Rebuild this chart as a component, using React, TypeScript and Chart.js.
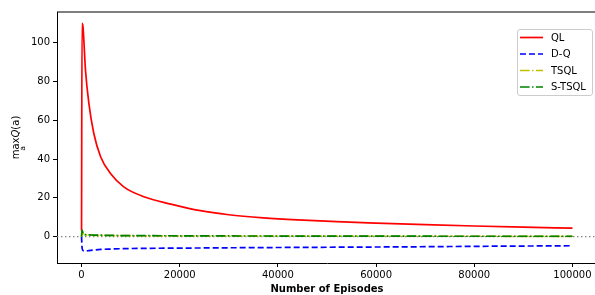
import React, { useEffect, useRef } from "react";
import { Chart, registerables } from "chart.js";

Chart.register(...registerables);

const episodes = [0, 100, 300, 800, 1500, 2500, 3900, 5900, 8600, 12700, 18200, 24200, 30000, 37000, 44000, 52000, 60000, 70000, 80000, 90000, 100000];
const qlValues = [3, 110, 108, 86, 68.6, 53.2, 41.1, 32.6, 25.7, 20.6, 16.8, 13.4, 11.3, 9.7, 8.6, 7.7, 7.0, 6.2, 5.5, 4.9, 4.4];
const dqValues = [0, -5.5, -7.2, -7.4, -7.2, -6.9, -6.6, -6.4, -6.2, -6.05, -5.95, -5.85, -5.75, -5.65, -5.55, -5.45, -5.35, -5.2, -5.0, -4.85, -4.7];
const tsqlValues = [0, 3.0, 1.6, 0.9, 0.8, 0.7, 0.65, 0.6, 0.5, 0.45, 0.4, 0.35, 0.3, 0.28, 0.26, 0.24, 0.22, 0.2, 0.2, 0.18, 0.18];
const stsqlValues = [0, 3.4, 1.8, 1.0, 0.9, 0.8, 0.75, 0.65, 0.55, 0.5, 0.45, 0.4, 0.35, 0.32, 0.3, 0.28, 0.25, 0.22, 0.2, 0.2, 0.2];

const xTicks = [0, 20000, 40000, 60000, 80000, 100000];
const yTicks = [0, 20, 40, 60, 80, 100];
const seriesNames = ["QL", "D-Q", "TSQL", "S-TSQL"];
const xTitle = "Number of Episodes";

const FONT = "'DejaVu Sans', sans-serif";
const colors = ["#ff0000", "#0000ff", "#bfbf00", "#008000"];
const dashes: number[][] = [[], [6, 3], [9.6, 2.4, 1.5, 2.4], [9.6, 2.4, 1.5, 2.4]];

const toPoints = (ys: number[]) => episodes.map((x, i) => ({ x, y: ys[i] }));

const decorPlugin = {
  id: "decor",
  beforeDatasetsDraw(chart: any) {
    const { ctx, chartArea, scales } = chart;
    const y0 = scales.y.getPixelForValue(0);
    ctx.save();
    ctx.strokeStyle = "#808080";
    ctx.lineWidth = 1.3;
    ctx.setLineDash([1.4, 2.6]);
    ctx.beginPath();
    ctx.moveTo(chartArea.left, y0);
    ctx.lineTo(chartArea.right, y0);
    ctx.stroke();
    ctx.restore();
  },
  afterDraw(chart: any) {
    const { ctx, chartArea } = chart;
    ctx.save();
    ctx.strokeStyle = "#000";
    ctx.lineWidth = 1;
    ctx.setLineDash([]);
    ctx.beginPath();
    ctx.moveTo(chartArea.left, chartArea.top);
    ctx.lineTo(chartArea.right, chartArea.top);
    ctx.lineTo(chartArea.right, chartArea.bottom);
    ctx.stroke();

    ctx.fillStyle = "#000";
    ctx.font = `bold 10px ${FONT}`;
    ctx.textAlign = "center";
    ctx.textBaseline = "middle";
    ctx.fillText(xTitle, (chartArea.left + chartArea.right) / 2, 289);

    ctx.save();
    ctx.translate(19, (chartArea.top + chartArea.bottom) / 2);
    ctx.rotate(-Math.PI / 2);
    ctx.textBaseline = "alphabetic";
    ctx.textAlign = "left";
    ctx.font = `10px ${FONT}`;
    const wMax = ctx.measureText("max").width;
    ctx.font = `italic 10px ${FONT}`;
    const wQ = ctx.measureText("Q").width;
    ctx.font = `10px ${FONT}`;
    const wA = ctx.measureText("(a)").width;
    const total = wMax + wQ + wA;
    let x = -total / 2;
    ctx.fillText("max", x, 0);
    const maxCenter = x + wMax / 2;
    x += wMax;
    ctx.font = `italic 10px ${FONT}`;
    ctx.fillText("Q", x, 0);
    x += wQ;
    ctx.font = `10px ${FONT}`;
    ctx.fillText("(a)", x, 0);
    ctx.font = `7.5px ${FONT}`;
    ctx.textAlign = "center";
    ctx.fillText("a", maxCenter, 6);
    ctx.restore();

    const lx = 517, ly = 29, lw = 75, lh = 66;
    ctx.fillStyle = "rgba(255,255,255,0.8)";
    ctx.strokeStyle = "#cccccc";
    ctx.lineWidth = 1;
    ctx.beginPath();
    (ctx as any).roundRect(lx + 0.5, ly + 0.5, lw, lh, 2.5);
    ctx.fill();
    ctx.stroke();
    const rows = [37.5, 54, 70.5, 87];
    seriesNames.forEach((name, i) => {
      ctx.strokeStyle = colors[i];
      ctx.lineWidth = 1.7;
      ctx.setLineDash(dashes[i]);
      ctx.beginPath();
      ctx.moveTo(520, rows[i]);
      ctx.lineTo(543, rows[i]);
      ctx.stroke();
      ctx.setLineDash([]);
      ctx.fillStyle = "#000";
      ctx.font = `10px ${FONT}`;
      ctx.textAlign = "left";
      ctx.textBaseline = "middle";
      ctx.fillText(name, 551, rows[i] + 0.5);
    });
    ctx.restore();
  },
};

export default function App() {
  const ref = useRef<HTMLCanvasElement | null>(null);
  useEffect(() => {
    if (!ref.current) return;
    const series = [qlValues, dqValues, tsqlValues, stsqlValues];
    const orders = [3, 2, 1, 0];
    const chart = new Chart(ref.current, {
      type: "line",
      data: {
        datasets: series.map((ys, i) => ({
          label: seriesNames[i],
          data: toPoints(ys),
          borderColor: colors[i],
          backgroundColor: colors[i],
          borderWidth: 1.7,
          borderDash: dashes[i],
          pointRadius: 0,
          fill: false,
          cubicInterpolationMode: "monotone" as const,
          order: orders[i],
        })),
      },
      options: {
        animation: false,
        responsive: false,
        maintainAspectRatio: false,
        layout: { padding: { left: 0, right: 0, top: 12, bottom: 0 } },
        plugins: { legend: { display: false }, tooltip: { enabled: false } },
        scales: {
          x: {
            type: "linear",
            min: -5000,
            max: 105000,
            afterBuildTicks: (s: any) => {
              s.ticks = xTicks.map((v) => ({ value: v }));
            },
            afterFit: (s: any) => {
              s.height = 32;
            },
            grid: { drawOnChartArea: false, drawTicks: true, tickLength: 4, color: "#000" },
            border: { display: true, color: "#000", width: 1 },
            ticks: {
              color: "#000",
              font: { family: FONT, size: 10 },
              padding: 2,
              maxRotation: 0,
              autoSkip: false,
              callback: (v: any) => String(v),
            },
          },
          y: {
            type: "linear",
            min: -13.6,
            max: 115.9,
            afterBuildTicks: (s: any) => {
              s.ticks = yTicks.map((v) => ({ value: v }));
            },
            afterFit: (s: any) => {
              s.width = 57;
            },
            grid: { drawOnChartArea: false, drawTicks: true, tickLength: 4, color: "#000" },
            border: { display: true, color: "#000", width: 1 },
            ticks: {
              color: "#000",
              font: { family: FONT, size: 10 },
              padding: 3,
              autoSkip: false,
              callback: (v: any) => String(v),
            },
          },
        },
      },
      plugins: [decorPlugin],
    });
    return () => chart.destroy();
  }, []);
  return (
    <div style={{ position: "fixed", left: 0, top: 0, width: 598, height: 295, background: "#fff" }}>
      <canvas ref={ref} width={597} height={295} style={{ width: 597, height: 295, display: "block" }} />
    </div>
  );
}
